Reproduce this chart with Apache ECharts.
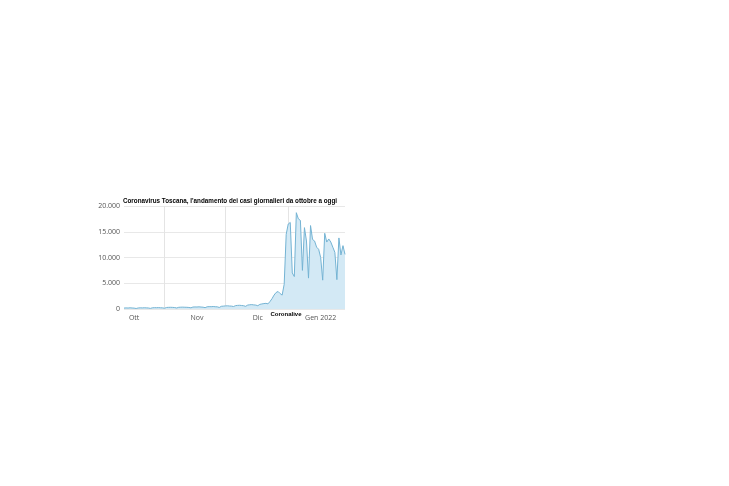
<!DOCTYPE html>
<html><head><meta charset="utf-8">
<script src="https://cdn.jsdelivr.net/npm/echarts@6/dist/echarts.min.js"></script>
<style>html,body{margin:0;padding:0;background:#fff;}#c{width:729px;height:486px;}</style>
</head><body><div id="c"></div>
<script>
const titleText = "Coronavirus Toscana, l'andamento dei casi giornalieri da ottobre a oggi";
const sourceText = "Coronalive";
const startDate = [2021, 9, 12]; // 12 ottobre 2021
const monthNames = ["Gen","Feb","Mar","Apr","Mag","Giu","Lug","Ago","Set","Ott","Nov","Dic"];
const yTicks = [0, 5000, 10000, 15000, 20000];
// casi giornalieri, dal 12 ott 2021 al 28 gen 2022
const octCases = [180,210,190,230,200,170,100,200,230,210,240,220,200,120,230,260,250,270,240,220];
const novCases = [150,300,320,330,310,280,200,330,350,360,340,330,300,230,380,400,390,420,380,350,260,430,460,450,480,440,420,300,520,560];
const decCases = [600,620,580,560,480,650,700,720,680,640,520,760,820,850,800,760,640,900,980,1050,1100,
                  1000,1450,2000,2700,3200,3400,3000,2700,4800,14500,16500];
const janCases = [16800,7000,6300,18700,17500,17200,7500,15800,13200,6000,16200,13500,13200,12000,11600,10000,5600,
                  14700,13000,13600,13000,12000,11000,5700,13800,10500,12300,10600];
const cases = [].concat(octCases, novCases, decCases, janCases);

const dates = cases.map((v, i) => new Date(startDate[0], startDate[1], startDate[2] + i));
const cats = dates.map(d => d.getFullYear() + '-' + (d.getMonth()+1) + '-' + d.getDate());

function fmt(n){ return String(n).replace(/\B(?=(\d{3})+(?!\d))/g, '.'); }

const chart = echarts.init(document.getElementById('c'));
chart.setOption({
  animation: false,
  backgroundColor: '#fff',
  title: [{
    text: titleText, left: 225, top: 193, textAlign: 'center',
    textStyle: {fontFamily: 'Liberation Sans', fontWeight: 'bold', fontSize: 6.3, color: '#000'}
  },{
    text: sourceText, left: 281, top: 306, textAlign: 'center',
    textStyle: {fontFamily: 'Liberation Sans', fontWeight: 'bold', fontSize: 6, color: '#000'}
  }],
  grid: {left: 124, right: 384, top: 206, bottom: 177, containLabel: false},
  xAxis: {
    type: 'category', data: cats, boundaryGap: false,
    axisLine: {show: false}, axisTick: {show: false},
    axisLabel: {
      interval: (i) => dates[i].getDate() === 17,
      formatter: (v, i) => { const d = dates[i]; return d.getMonth() === 0 ? monthNames[0] + ' ' + d.getFullYear() : monthNames[d.getMonth()]; },
      fontFamily: 'Open Sans', fontSize: 7, color: '#555', margin: 5
    },
    splitLine: {show: true, interval: (i) => dates[i].getDate() === 1, lineStyle: {color: '#e4e4e4', width: 1}}
  },
  yAxis: {
    type: 'value', min: 0, max: 20000, interval: 5000,
    axisLine: {show: false}, axisTick: {show: false},
    axisLabel: {formatter: v => fmt(v), fontFamily: 'Open Sans', fontSize: 7, color: '#555', margin: 4},
    splitLine: {lineStyle: {color: '#e8e8e8', width: 1}}
  },
  series: [{
    type: 'line', data: cases, symbol: 'none', smooth: false,
    lineStyle: {color: '#74b3d3', width: 1},
    areaStyle: {color: '#d3e9f5', opacity: 1}
  }]
});
</script>
</body></html>
